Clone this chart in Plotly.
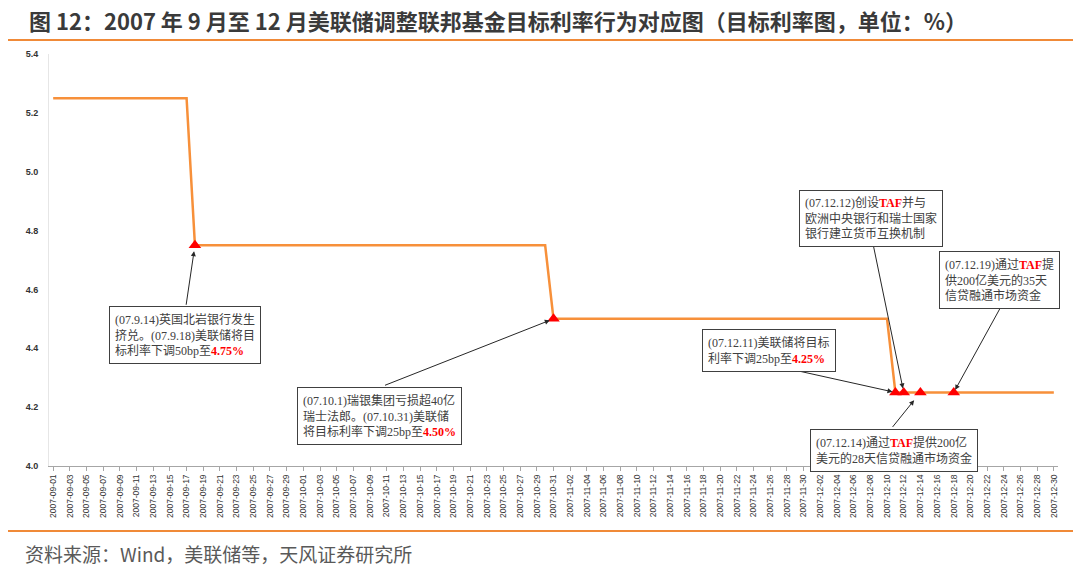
import plotly.graph_objects as go

# ---- data ----
line_dates = ["2007-09-01", "2007-09-17", "2007-09-18", "2007-10-30", "2007-10-31",
              "2007-12-10", "2007-12-11", "2007-12-30"]
line_rates = [5.25, 5.25, 4.75, 4.75, 4.50, 4.50, 4.25, 4.25]

event_dates = ["2007-09-18", "2007-10-31", "2007-12-11", "2007-12-12", "2007-12-14", "2007-12-18"]
event_rates = [4.75, 4.50, 4.25, 4.25, 4.25, 4.25]

y_ticks = [4.0, 4.2, 4.4, 4.6, 4.8, 5.0, 5.2, 5.4]

title_text = "图 12：2007 年 9 月至 12 月美联储调整联邦基金目标利率行为对应图（目标利率图，单位：%）"
source_text = "资料来源：Wind，美联储等，天风证券研究所"

RED = "<b><span style='color:#FF0000'>{}</span></b>"
box_texts = [
    "(07.9.14)英国北岩银行发生<br>挤兑。(07.9.18)美联储将目<br>标利率下调50bp至" + RED.format("4.75%"),
    "(07.10.1)瑞银集团亏损超40亿<br>瑞士法郎。(07.10.31)美联储<br>将目标利率下调25bp至" + RED.format("4.50%"),
    "(07.12.11)美联储将目标<br>利率下调25bp至" + RED.format("4.25%"),
    "(07.12.12)创设" + RED.format("TAF") + "并与<br>欧洲中央银行和瑞士国家<br>银行建立货币互换机制",
    "(07.12.14)通过" + RED.format("TAF") + "提供200亿<br>美元的28天信贷融通市场资金",
    "(07.12.19)通过" + RED.format("TAF") + "提<br>供200亿美元的35天<br>信贷融通市场资金",
]
# box -> which event marker it points to
box_event = [0, 1, 2, 3, 4, 5]

# ---- layout geometry (pixels) ----
W, H = 1080, 570
L, R, T, B = 49, 22, 54, 104
PW, PH = W - L - R, H - T - B


def px2paper(px, py):
    return (px - L) / PW, (H - B - py) / PH


box_pos = [(109, 306), (297, 387), (702, 329), (799, 190), (810, 429), (939, 251)]
arrow_off = [(-9, 61, 6), (-170, 67, 4), (-122, -27, 3), (-31, -150, 4), (-29, 36, 10), (49, -89, 3)]

LINE_COLOR = "#F7903A"
SEP_COLOR = "#F08A38"
BOX_FONT = "Liberation Serif, Noto Sans CJK SC, serif"

fig = go.Figure()
fig.add_trace(go.Scatter(x=line_dates, y=line_rates, mode="lines",
                         line=dict(color=LINE_COLOR, width=2.5), hoverinfo="skip"))
fig.add_trace(go.Scatter(x=event_dates, y=event_rates, mode="markers",
                         marker=dict(symbol="triangle-up", color="#FF0000", size=11,
                                     line=dict(width=0)), hoverinfo="skip"))

annotations = []
# arrows
for i, (ax, ay, so) in enumerate(arrow_off):
    e = box_event[i]
    annotations.append(dict(x=event_dates[e], y=event_rates[e], xref="x", yref="y",
                            text="", showarrow=True, ax=ax, ay=ay, axref="pixel", ayref="pixel",
                            arrowhead=2, arrowsize=1, arrowwidth=1, arrowcolor="#262626",
                            standoff=so))
# boxes
for (bx, by), txt in zip(box_pos, box_texts):
    xp, yp = px2paper(bx, by)
    annotations.append(dict(x=xp, y=yp, xref="paper", yref="paper", xanchor="left", yanchor="top",
                            text=txt, showarrow=False, align="left",
                            font=dict(family=BOX_FONT, size=12, color="#404040"),
                            bgcolor="#FFFFFF", bordercolor="#404040", borderwidth=1, borderpad=5))
# title
tx, ty = px2paper(27, 20)
annotations.append(dict(x=tx, y=ty, xref="paper", yref="paper", xanchor="left", yanchor="middle",
                        text="<b>" + title_text + "</b>", showarrow=False,
                        font=dict(family="Noto Sans CJK SC", size=22, color="#3A3A3A")))
# source
sx, sy = px2paper(23, 553)
annotations.append(dict(x=sx, y=sy, xref="paper", yref="paper", xanchor="left", yanchor="middle",
                        text=source_text, showarrow=False,
                        font=dict(family="Noto Sans CJK SC", size=19, color="#595959")))

shapes = []
for py in (40, 531):
    x0, y0 = px2paper(8, py)
    x1, _ = px2paper(1073, py)
    shapes.append(dict(type="line", xref="paper", yref="paper", x0=x0, x1=x1, y0=y0, y1=y0,
                       line=dict(color=SEP_COLOR, width=2)))

fig.update_layout(
    width=W, height=H,
    margin=dict(l=L, r=R, t=T, b=B, pad=0),
    paper_bgcolor="#FFFFFF", plot_bgcolor="#FFFFFF",
    showlegend=False,
    annotations=annotations,
    shapes=shapes,
    xaxis=dict(type="date", range=["2007-08-31 12:00", "2007-12-30 12:00"],
               tick0="2007-09-01", dtick=2 * 86400000, tickformat="%Y-%m-%d",
               tickangle=-90, tickfont=dict(family="Liberation Sans, Arial", size=8.5, color="#333333"),
               showgrid=False, zeroline=False, showline=True, linecolor="#A6A6A6", linewidth=1,
               ticks="outside", ticklen=4, tickcolor="#A6A6A6"),
    yaxis=dict(range=[4.0, 5.4], tickvals=y_ticks, tickformat=".1f",
               tickfont=dict(family="Liberation Sans, Arial", size=9, color="#333333", weight="bold"),
               showgrid=False, zeroline=False, showline=True, linecolor="#E6E6E6", linewidth=1,
               ticks="", ticklabelstandoff=8),
)

fig.write_html("out.html", config={"displayModeBar": False},
               post_script="document.body.style.margin='0';document.body.style.padding='0';")
